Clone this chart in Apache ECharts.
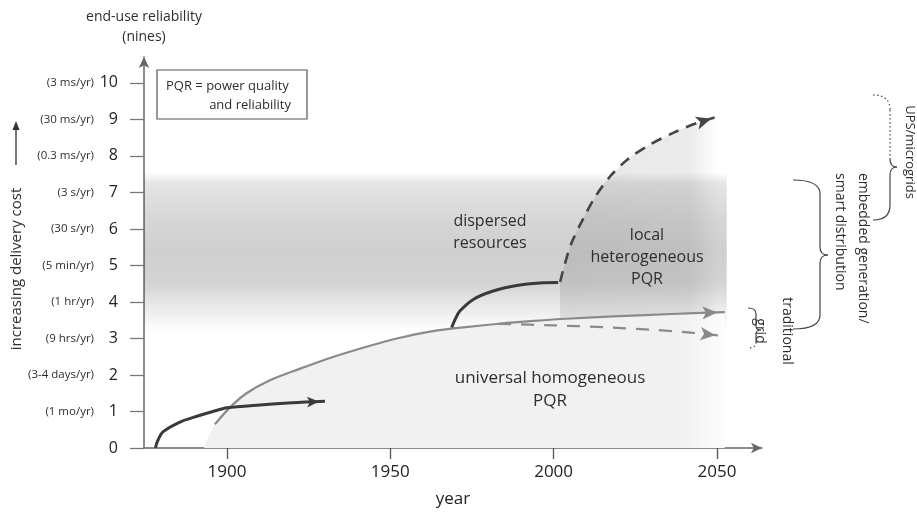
<!DOCTYPE html>
<html>
<head>
<meta charset="utf-8">
<script src="https://cdn.jsdelivr.net/npm/echarts@6/dist/echarts.min.js"></script>
<style>
html, body { margin: 0; padding: 0; background: #fff; }
#main { width: 917px; height: 513px; }
</style>
</head>
<body>
<div id="main"></div>
<script>
// axis ticks
const yearTicks = [1900, 1950, 2000, 2050]
const ninesTicks = [0, 1, 2, 3, 4, 5, 6, 7, 8, 9, 10]
const downtime = ['', '(1 mo/yr)', '(3-4 days/yr)', '(9 hrs/yr)', '(1 hr/yr)', '(5 min/yr)',
  '(30 s/yr)', '(3 s/yr)', '(0.3 ms/yr)', '(30 ms/yr)', '(3 ms/yr)']

// curves as [year, nines]
const earlyGrid = [[1878.1, 0], [1878.8, 0.2], [1880.4, 0.44], [1885.6, 0.71], [1890.8, 0.87],
  [1895.7, 1.0], [1900, 1.1], [1910, 1.18], [1920, 1.24], [1930, 1.28]]
const universalPQR = [[1896.3, 0.65], [1901, 1.12], [1906, 1.5], [1913, 1.85], [1922, 2.16],
  [1932, 2.48], [1943, 2.78], [1953, 3.02], [1963, 3.2], [1973, 3.31], [1984, 3.41],
  [1994, 3.48], [2004, 3.54], [2020, 3.61], [2036, 3.67], [2052.4, 3.72]]
const universalFoot = [[1893, 0]]
const traditionalGrid = [[1983, 3.4], [2000, 3.36], [2015, 3.31], [2030, 3.24], [2042, 3.16], [2051.8, 3.07]]
const dispersedRes = [[1968.8, 3.3], [1970, 3.55], [1971.3, 3.75], [1975.4, 4.07], [1981.5, 4.3],
  [1988.7, 4.45], [1995.8, 4.52], [2001.4, 4.53]]
const localPQR = [[2002, 4.55], [2003.3, 5.0], [2005.5, 5.62], [2009, 6.27], [2012.6, 6.86],
  [2017.4, 7.45], [2023, 7.93], [2029.5, 8.31], [2036.6, 8.63], [2043.8, 8.9], [2050.4, 9.08]]
const costBand = [3.2, 7.55]
const bandYears = [1874.6, 2053]

const font = '"Open Sans", "Noto Sans", sans-serif'
const ink = '#2e2e2e'

function arrowHead(pts, color, size) {
  const a = pts[pts.length - 2], b = pts[pts.length - 1]
  return {
    silent: true,
    symbol: ['none', 'arrow'],
    symbolSize: size,
    symbolOffset: [0, [0, size[1] / 2]],
    label: { show: false },
    lineStyle: { color: color, width: 0, type: 'solid' },
    data: [[{ coord: a }, { coord: b }]]
  }
}

function curve(data, color, width, dash, arrow) {
  const s = {
    type: 'line', data: data, smooth: 0.3, symbol: 'none', silent: true, z: 4,
    lineStyle: { color: color, width: width, type: dash || 'solid', cap: 'butt' }
  }
  if (arrow) s.markLine = arrowHead(data, color, arrow)
  return s
}

// "}" shaped brace
function brace(xe, xs, xt, yt, ym, yb, r, r2, dashTop, dashBot) {
  const st = { stroke: '#444', lineWidth: 1.2, fill: null }
  const dot = [1.5, 2.5]
  const els = []
  const add = (type, shape, dash) => els.push({ type: type, shape: shape, z: 100, silent: true,
    style: Object.assign({}, st, dash ? { lineDash: dot } : {}) })
  add('bezierCurve', { x1: xe, y1: yt, cpx1: xe + (xs - xe) * 0.75, cpy1: yt, cpx2: xs, cpy2: yt + r * 0.4, x2: xs, y2: yt + r }, dashTop)
  add('line', { x1: xs, y1: yt + r, x2: xs, y2: ym - r2 }, dashTop)
  add('bezierCurve', { x1: xs, y1: ym - r2, cpx1: xs, cpy1: ym - r2 * 0.3, cpx2: xs + (xt - xs) * 0.3, cpy2: ym, x2: xt, y2: ym })
  add('bezierCurve', { x1: xt, y1: ym, cpx1: xs + (xt - xs) * 0.3, cpy1: ym, cpx2: xs, cpy2: ym + r2 * 0.3, x2: xs, y2: ym + r2 })
  add('line', { x1: xs, y1: ym + r2, x2: xs, y2: yb - r }, false)
  add('bezierCurve', { x1: xs, y1: yb - r, cpx1: xs, cpy1: yb - r * 0.4, cpx2: xe + (xs - xe) * 0.75, cpy2: yb, x2: xe, y2: yb }, dashBot)
  return els
}

function label(text, x, y, size, extra) {
  return Object.assign({
    type: 'text', x: x, y: y, z: 100, silent: true,
    style: { text: text, fill: ink, font: size + 'px ' + font, align: 'center', verticalAlign: 'middle', lineHeight: size + 6 }
  }, extra || {})
}

const chart = echarts.init(document.getElementById('main'))

const option = {
  animation: false,
  grid: { left: 144, right: 155, top: 57, bottom: 64 },
  xAxis: {
    type: 'value', min: 1874.6, max: 2063.8,
    axisLine: { lineStyle: { color: '#666', width: 1.5 }, symbol: ['none', 'arrow'], symbolSize: [8, 11] },
    axisTick: { customValues: yearTicks, length: 11, lineStyle: { color: '#555', width: 1.3 } },
    axisLabel: { customValues: yearTicks, margin: 16, fontSize: 17, color: '#222', fontFamily: font, formatter: v => String(v) },
    splitLine: { show: false },
    name: 'year', nameLocation: 'middle', nameGap: 43,
    nameTextStyle: { fontSize: 17, color: '#222', fontFamily: font }
  },
  yAxis: {
    type: 'value', min: 0, max: 10.71,
    axisLine: { show: true, lineStyle: { color: '#666', width: 1.5 }, symbol: ['none', 'arrow'], symbolSize: [8, 11] },
    axisTick: { show: true, customValues: ninesTicks, length: 14, lineStyle: { color: '#777', width: 1.3 } },
    axisLabel: {
      customValues: ninesTicks, margin: 26,
      formatter: v => (downtime[v] ? '{d|' + downtime[v] + '}' : '') + '{n|' + v + '}',
      rich: {
        d: { fontSize: 11.5, color: ink, fontFamily: font },
        n: { fontSize: 16, color: '#222', fontFamily: font, width: 24, align: 'right' }
      }
    },
    splitLine: { show: false },
    name: 'end-use reliability\n(nines)', nameLocation: 'end', nameGap: 10,
    nameTextStyle: { fontSize: 14, lineHeight: 20, color: ink, fontFamily: font, align: 'center', verticalAlign: 'bottom' }
  },
  series: [
    {
      // local heterogeneous region, with the delivery-cost band behind it
      type: 'line', data: localPQR, smooth: 0.3, symbol: 'none', silent: true, z: 2,
      lineStyle: { width: 0 },
      areaStyle: {
        opacity: 1,
        color: { type: 'linear', x: 0, y: 0, x2: 1, y2: 0, colorStops: [
          { offset: 0, color: 'rgba(0,0,0,0.09)' }, { offset: 0.82, color: 'rgba(0,0,0,0.08)' }, { offset: 1, color: 'rgba(0,0,0,0)' }] }
      },
      markArea: {
        silent: true,
        itemStyle: {
          color: { type: 'linear', x: 0, y: 0, x2: 0, y2: 1, colorStops: [
            { offset: 0, color: 'rgba(0,0,0,0)' }, { offset: 0.07, color: 'rgba(0,0,0,0.1)' },
            { offset: 0.3, color: 'rgba(0,0,0,0.16)' }, { offset: 0.5, color: 'rgba(0,0,0,0.19)' },
            { offset: 0.7, color: 'rgba(0,0,0,0.17)' }, { offset: 0.86, color: 'rgba(0,0,0,0.08)' },
            { offset: 1, color: 'rgba(0,0,0,0)' }] }
        },
        data: [[{ xAxis: bandYears[0], yAxis: costBand[1] }, { xAxis: bandYears[1], yAxis: costBand[0] }]]
      }
    },
    {
      // universal homogeneous region
      type: 'line', data: universalFoot.concat(universalPQR), smooth: 0.3, symbol: 'none', silent: true, z: 3,
      lineStyle: { width: 0 },
      areaStyle: {
        opacity: 1,
        color: { type: 'linear', x: 0, y: 0, x2: 1, y2: 0, colorStops: [
          { offset: 0, color: '#f1f1f1' }, { offset: 0.92, color: '#f1f1f1' }, { offset: 1, color: '#fdfdfd' }] }
      }
    },
    curve(universalPQR, '#8a8a8a', 2.2, null, [10, 15]),
    curve(traditionalGrid, '#8a8a8a', 2.2, [13, 10], [10, 15]),
    curve(earlyGrid, '#3a3a3a', 3, null, [8, 12]),
    curve(dispersedRes, '#3a3a3a', 3, null, null),
    curve(localPQR, '#454545', 2.6, [11, 8], [10, 15])
  ],
  graphic: [
    { type: 'rect', z: 100, silent: true, shape: { x: 157, y: 70, width: 150, height: 49 }, style: { fill: '#fff', stroke: '#555', lineWidth: 1.2 } },
    label('PQR = power quality', 166, 86, 13, { style: { text: 'PQR = power quality', fill: ink, font: '13px ' + font, align: 'left', verticalAlign: 'middle' } }),
    label('and reliability', 291, 105, 13, { style: { text: 'and reliability', fill: ink, font: '13px ' + font, align: 'right', verticalAlign: 'middle' } }),
    label('increasing delivery cost', 17, 269, 15, { rotation: Math.PI / 2 }),
    { type: 'line', z: 100, silent: true, shape: { x1: 16, y1: 165, x2: 16, y2: 128 }, style: { stroke: '#333', lineWidth: 1.3 } },
    { type: 'polygon', z: 100, silent: true, shape: { points: [[16, 121], [12.5, 130], [19.5, 130]] }, style: { fill: '#333' } },
    label('dispersed\nresources', 490, 232, 16, null),
    label('local\nheterogeneous\nPQR', 647, 257, 16, null),
    label('universal homogeneous\nPQR', 550, 390, 17, null),
    label('UPS/microgrids', 910, 152, 13, { rotation: -Math.PI / 2 }),
    { type: 'text', x: 851.5, y: 173, z: 100, silent: true, rotation: -Math.PI / 2,
      style: { text: 'embedded generation/\nsmart distribution', fill: ink, font: '14px ' + font, align: 'left', verticalAlign: 'middle', lineHeight: 23 } },
    label('traditional\ngrid', 773.5, 331, 14, { rotation: -Math.PI / 2, style: { text: 'traditional\ngrid', fill: ink, font: '14px ' + font, align: 'center', verticalAlign: 'middle', lineHeight: 27 } })
  ]
    .concat(brace(873, 890, 897, 95, 167, 220, 15, 8, true, false))
    .concat(brace(793, 820, 828, 180, 255, 329, 14, 8, false, false))
    .concat(brace(748, 756, 761, 308, 330, 348, 6, 4, false, true))
}

chart.setOption(option)
window.addEventListener('resize', () => chart.resize())
</script>
</body>
</html>
